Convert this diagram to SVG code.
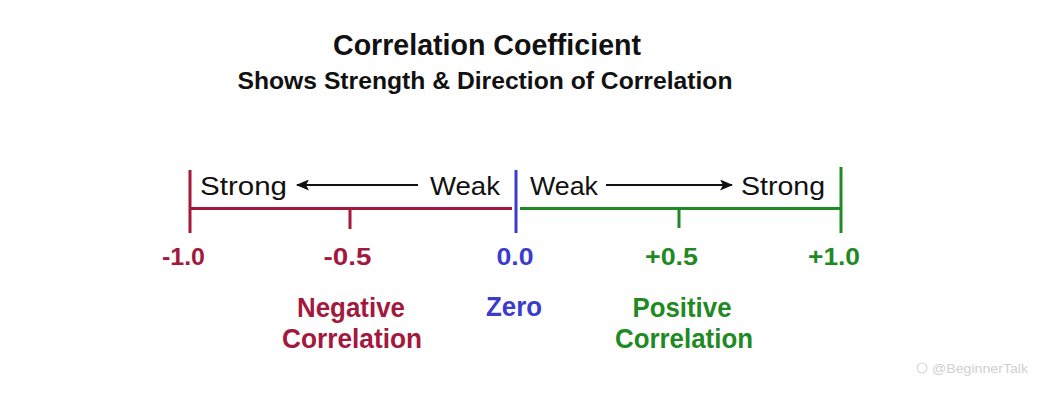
<svg xmlns="http://www.w3.org/2000/svg" width="1045" height="396" viewBox="0 0 1045 396">
<style>
text{font-family:"Liberation Sans",Arial,sans-serif}
.t{font-weight:bold;fill:#111;text-anchor:middle}
.w{font-size:25px;fill:#111}
.n{font-weight:bold;font-size:24px;text-anchor:middle}
.l{font-weight:bold;font-size:27px;text-anchor:middle}
.red{fill:#a3193d}.blue{fill:#3c3ccc}.green{fill:#1f8a24}
.rs{stroke:#a3193d;stroke-width:3;fill:none}
.bs{stroke:#3c3ccc;stroke-width:3;fill:none}
.gs{stroke:#1f8a24;stroke-width:3;fill:none}
.ar{stroke:#111;stroke-width:2;fill:none}
</style>
<defs>
<marker id="ah" viewBox="0 0 13 11" refX="12" refY="5.5" markerWidth="13" markerHeight="11" markerUnits="userSpaceOnUse" orient="auto">
<path d="M0,0 L13,5.5 L0,11 L3,5.5 Z" fill="#111"/>
</marker>
</defs>
<rect width="1045" height="396" fill="#fff"/>
<g id="title">
<text class="t" x="487" y="55" font-size="29" textLength="308" lengthAdjust="spacingAndGlyphs">Correlation Coefficient</text>
<text class="t" x="485" y="89" font-size="24" textLength="495" lengthAdjust="spacingAndGlyphs">Shows Strength &amp; Direction of Correlation</text>
</g>
<g id="connectors">
<path class="rs" d="M190,170V233M190,208.5H512M350,208.5V229"/>
<path class="bs" d="M516,170V233"/>
<path class="gs" d="M520,208.5H841M841,167V233M679,208.5V228"/>
<path class="ar" d="M418,185H297" marker-end="url(#ah)"/>
<path class="ar" d="M606,185H732" marker-end="url(#ah)"/>
</g>
<g id="axis-words">
<text class="w" x="200" y="195" textLength="87" lengthAdjust="spacingAndGlyphs">Strong</text>
<text class="w" x="430" y="195" textLength="70" lengthAdjust="spacingAndGlyphs">Weak</text>
<text class="w" x="530" y="195" textLength="68" lengthAdjust="spacingAndGlyphs">Weak</text>
<text class="w" x="741" y="195" textLength="84" lengthAdjust="spacingAndGlyphs">Strong</text>
</g>
<g id="tick-labels">
<text class="n red" x="183.5" y="265" textLength="43" lengthAdjust="spacingAndGlyphs">-1.0</text>
<text class="n red" x="347.5" y="265" textLength="48" lengthAdjust="spacingAndGlyphs">-0.5</text>
<text class="n blue" x="515" y="265" textLength="37" lengthAdjust="spacingAndGlyphs">0.0</text>
<text class="n green" x="671.5" y="265" textLength="53" lengthAdjust="spacingAndGlyphs">+0.5</text>
<text class="n green" x="834" y="265" textLength="52" lengthAdjust="spacingAndGlyphs">+1.0</text>
</g>
<g id="negative">
<text class="l red" x="351" y="317" textLength="108" lengthAdjust="spacingAndGlyphs">Negative</text>
<text class="l red" x="352" y="348" textLength="140" lengthAdjust="spacingAndGlyphs">Correlation</text>
</g>
<g id="zero">
<text class="l blue" x="514" y="316" textLength="56" lengthAdjust="spacingAndGlyphs">Zero</text>
</g>
<g id="positive">
<text class="l green" x="682" y="317" textLength="99" lengthAdjust="spacingAndGlyphs">Positive</text>
<text class="l green" x="684" y="348" textLength="138" lengthAdjust="spacingAndGlyphs">Correlation</text>
</g>
<g id="watermark">
<circle cx="922" cy="368" r="5" fill="none" stroke="#d8d8d8" stroke-width="1.2"/>
<text x="932" y="373" font-size="13" fill="#d0d0d0" textLength="96" lengthAdjust="spacingAndGlyphs">@BeginnerTalk</text>
</g>
</svg>
